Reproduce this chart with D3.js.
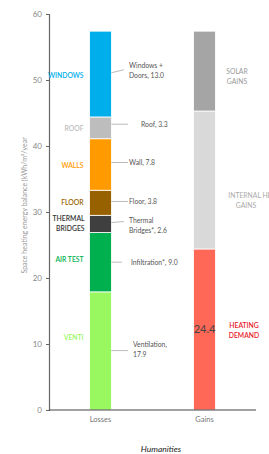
<!DOCTYPE html>
<html>
<head>
<meta charset="utf-8">
<script src="https://cdn.jsdelivr.net/npm/d3@7"></script>
<style>
  body { margin: 0; background: #fff; }
  text { font-family: Lato, "Open Sans", sans-serif; }
</style>
</head>
<body>
<div id="chart"></div>
<script>
// columns
const columns = ["Losses", "Gains"];

// losses stack, bottom to top
const lossNames = ["Ventilation", "Infiltration", "Thermal bridges", "Floor", "Wall", "Roof", "Windows + Doors"];
const lossValues = [17.9, 9.0, 2.6, 3.8, 7.8, 3.3, 13.0];
const lossColors = ["#99f85f", "#00b04f", "#3f3f3f", "#986100", "#ff9a00", "#bdbdbd", "#00aeeb"];
const lossTags = [["VENTI"], ["AIR TEST"], ["THERMAL", "BRIDGES"], ["FLOOR"], ["WALLS"], ["ROOF"], ["WINDOWS"]];
const lossNotes = [["Ventilation,", "17.9"], ["Infiltration*, 9.0"], ["Thermal", "Bridges*, 2.6"], ["Floor, 3.8"], ["Wall, 7.8"], ["Roof, 3.3"], ["Windows +", "Doors, 13.0"]];

// gains stack, bottom to top
const gainNames = ["Heating demand", "Internal heat gains", "Solar gains"];
const gainValues = [24.4, 20.9, 12.1];
const gainColors = ["#ff6757", "#d9d9d9", "#a5a5a5"];
const gainTags = [["HEATING", "DEMAND"], ["INTERNAL HEAT", "GAINS"], ["SOLAR", "GAINS"]];
const gainTagColors = ["#e8202a", "#aaaaaa", "#9a9a9a"];

const yTicks = [0, 10, 20, 30, 40, 50, 60];

const W = 269, H = 454;
const margin = { top: 14, right: 13, bottom: 44, left: 49 };

const svg = d3.select("#chart").append("svg")
    .attr("width", W).attr("height", H);

const y = d3.scaleLinear().domain([0, 60]).range([H - margin.bottom, margin.top]);
const x = d3.scaleBand().domain(columns).range([margin.left, W - margin.right]).paddingInner(0.79).paddingOuter(0.39);

function stack(values) {
  let acc = 0;
  return values.map(v => { const s = { y0: acc, y1: acc + v, v: v }; acc += v; return s; });
}
const lossStack = stack(lossValues);
const gainStack = stack(gainValues);

// bars
svg.append("g").selectAll("rect")
  .data(lossStack)
  .join("rect")
  .attr("x", x("Losses"))
  .attr("width", x.bandwidth())
  .attr("y", d => y(d.y1))
  .attr("height", d => y(d.y0) - y(d.y1))
  .attr("fill", (d, i) => lossColors[i])
  .attr("stroke", "#fff").attr("stroke-width", 0.8);

svg.append("g").selectAll("rect")
  .data(gainStack)
  .join("rect")
  .attr("x", x("Gains"))
  .attr("width", x.bandwidth())
  .attr("y", d => y(d.y1))
  .attr("height", d => y(d.y0) - y(d.y1))
  .attr("fill", (d, i) => gainColors[i])
  .attr("stroke", "#fff").attr("stroke-width", 0.8);

// axes
const yAxis = svg.append("g")
  .attr("transform", `translate(${margin.left},0)`)
  .call(d3.axisLeft(y).tickValues(yTicks).tickSize(3).tickPadding(4));
yAxis.select(".domain").attr("stroke", "#666").attr("stroke-width", 1.2);
yAxis.selectAll(".tick line").attr("stroke", "#666");
yAxis.selectAll("text").attr("fill", "#888").attr("font-size", 8);

const xAxis = svg.append("g")
  .attr("transform", `translate(0,${y(0)})`)
  .call(d3.axisBottom(x).tickSize(0).tickPadding(7));
xAxis.select(".domain").attr("stroke", "#444").attr("stroke-width", 1.2)
  .attr("d", `M${margin.left},0H${W - margin.right}`);
xAxis.selectAll("text").attr("fill", "#777").attr("font-size", 7.5);

// y title
svg.append("text")
  .attr("transform", `translate(27,${y(31)}) rotate(-90)`)
  .attr("text-anchor", "middle")
  .attr("fill", "#999").attr("font-size", 7)
  .text("Space heating energy balance (kWh/m²/year");

// left tags
const tagY = [11, 22.8, 28.3, 31.4, 37.1, 42.7, 50.7];
const tagX = x("Losses") - 6;
lossTags.forEach((lines, i) => {
  const t = svg.append("text")
    .attr("text-anchor", "end")
    .attr("fill", i === 2 ? "#333" : lossColors[i])
    .attr("font-size", 6.8)
    .attr("font-weight", 600);
  lines.forEach((ln, j) => t.append("tspan")
    .attr("x", i === 2 ? tagX + 1 : tagX)
    .attr("y", y(tagY[i]) + 2.5 + j * 10 - (lines.length - 1) * 5)
    .text(ln));
});

// leader lines and notes
const noteLineY = [9, 22.4, 28.4, 31.6, 37.5, 43.3, 51.1];
const noteLineEnd = [128, 122, 124, 128, 128, 128, 124];
const noteX = [133, 131, 129, 129, 129, 141, 129];
const xr = x("Losses") + x.bandwidth();
lossNotes.forEach((lines, i) => {
  svg.append("line")
    .attr("x1", xr).attr("x2", noteLineEnd[i])
    .attr("y1", y(noteLineY[i])).attr("y2", y(noteLineY[i]) - (i === 6 ? 3 : i === 2 ? 1 : 0))
    .attr("stroke", "#aaa").attr("stroke-width", 0.8);
  const t = svg.append("text").attr("fill", "#555").attr("font-size", 6.8);
  lines.forEach((ln, j) => t.append("tspan")
    .attr("x", noteX[i])
    .attr("y", y(noteLineY[i]) + 2.5 + j * 10 - (lines.length - 1) * 5 + (i === 0 ? -1 : 0) + (i === 2 ? 3 : 0) + (i === 6 ? -2 : 0))
    .text(ln));
});

// gains tags
const gainTagY = [12, 31.7, 50.5];
const gainTagX = [244, 246, 237];
gainTags.forEach((lines, i) => {
  const t = svg.append("text")
    .attr("text-anchor", "middle")
    .attr("fill", gainTagColors[i])
    .attr("font-size", 6.8)
    .attr("font-weight", i === 0 ? 600 : 400);
  lines.forEach((ln, j) => t.append("tspan")
    .attr("x", gainTagX[i] + (i === 1 && j === 0 ? 8 : 0))
    .attr("y", y(gainTagY[i]) + 2.5 + j * 10 - (lines.length - 1) * 5)
    .text(ln));
});

// value inside heating bar
svg.append("text")
  .attr("x", x("Gains") + x.bandwidth() / 2)
  .attr("y", y(12.2) + 4)
  .attr("text-anchor", "middle")
  .attr("fill", "#444").attr("font-size", 11)
  .text(gainValues[0].toFixed(1));

// footer
svg.append("text")
  .attr("x", 161).attr("y", 452)
  .attr("text-anchor", "middle")
  .attr("fill", "#222").attr("font-size", 8.5)
  .attr("font-style", "italic")
  .text("Humanities");
</script>
</body>
</html>
